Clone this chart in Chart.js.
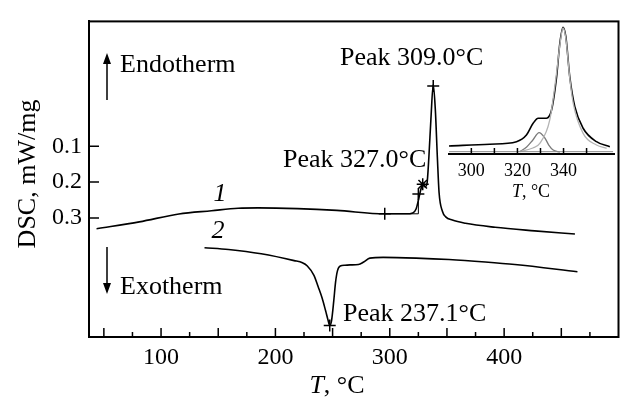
<!DOCTYPE html>
<html>
<head>
<meta charset="utf-8">
<script src="https://cdn.jsdelivr.net/npm/chart.js@4"></script>
<style>
  body { margin: 0; background: #fff; }
  #wrap { position: relative; width: 626px; height: 398px; }
  #main { position: absolute; left: 0; top: 0; }
  #inset { position: absolute; left: 440px; top: 10px; }
</style>
</head>
<body>
<div id="wrap">
  <canvas id="main" width="626" height="398" style="width:626px;height:398px"></canvas>
  <canvas id="inset" width="186" height="195" style="width:186px;height:195px"></canvas>
</div>
<script>
/* DSC curves, main plot + inset with the deconvoluted peak */

// curve 1 (upper trace)
const curve1T = [43.6, 81, 115.6, 144.1, 167.4, 184.7, 219.3, 253.7, 295.6, 314.3, 320.1, 323, 325, 326.9, 328.8, 330.8, 332.5, 334.2, 336, 338, 339.8, 341.6, 343.1, 346.1, 348.9, 354.7, 366.2, 392.1, 426.7, 461.9];
const curve1Y = [0.330, 0.311, 0.289, 0.280, 0.273, 0.272, 0.274, 0.279, 0.2885, 0.2885, 0.286, 0.275, 0.251, 0.224, 0.206, 0.213, 0.205, 0.130, 0.023, -0.072, -0.004, 0.130, 0.229, 0.282, 0.297, 0.306, 0.315, 0.326, 0.336, 0.345];

// curve 2 (lower trace)
const curve2T = [138, 159, 187.6, 216.4, 223.6, 227.9, 233.7, 237.4, 240.9, 243.9, 246.1, 247.5, 249.1, 251, 252.6, 254.3, 256.7, 260.8, 265.3, 272.6, 277.2, 282.6, 294.2, 323, 351.8, 383.5, 409.4, 464.1];
const curve2Y = [0.383, 0.388, 0.400, 0.419, 0.425, 0.434, 0.460, 0.492, 0.524, 0.559, 0.586, 0.600, 0.586, 0.532, 0.479, 0.447, 0.434, 0.432, 0.431, 0.430, 0.423, 0.412, 0.410, 0.412, 0.416, 0.423, 0.430, 0.450];

// onset construction lines on curve 1
const onsetT = [295.6, 325, 325];
const onsetY = [0.2885, 0.2885, 0.233];

// "+" markers
const markT = [295.6, 325, 328.8, 338, 247.5];
const markY = [0.2885, 0.233, 0.206, -0.068, 0.600];
const markStyle = ['cross', 'cross', 'star', 'cross', 'cross'];

const xTicks = [100, 200, 300, 400];
const yTicks = [0.1, 0.2, 0.3];

// inset: measured sum and two fitted components
const insetT = [290.3, 308, 319.6, 323.9, 326.8, 329, 332.6, 334.8, 337, 338.4, 339.8, 341, 342.7, 344.9, 348.5, 354.3, 360.1];
const insetSum = [0.062, 0.075, 0.095, 0.146, 0.236, 0.275, 0.275, 0.338, 0.595, 0.852, 0.975, 0.902, 0.595, 0.364, 0.198, 0.095, 0.056];
const smallT = [321, 324, 326.7, 329.4, 331.9, 333.6, 335.5, 338.4];
const smallY = [0.018, 0.054, 0.108, 0.164, 0.123, 0.069, 0.031, 0.015];
const bigT = [321, 326.7, 329.7, 334, 336.7, 338.4, 339.8, 341, 342.7, 344.2, 348.5, 354.3, 358.7];
const bigY = [0.019, 0.046, 0.082, 0.260, 0.585, 0.838, 0.970, 0.890, 0.585, 0.390, 0.159, 0.069, 0.044];
const baseT = [290.3, 361.5];
const baseY = [0.018, 0.018];
const insetTicks = [300, 320, 340];

const serif = '"Liberation Serif", "Times New Roman", serif';

function pts(xs, ys) {
    return xs.map((v, i) => ({ x: v, y: ys[i] }));
}

function curve(xs, ys, color, width) {
    return {
        data: pts(xs, ys),
        borderColor: color,
        borderWidth: width,
        pointRadius: 0,
        cubicInterpolationMode: 'monotone',
        fill: false
    };
}

// frame, inward ticks and all the annotations of the main plot
const mainNotes = {
    id: 'mainNotes',
    afterDraw(chart) {
        const ctx = chart.ctx;
        const a = chart.chartArea;
        const x = chart.scales.x;
        const y = chart.scales.y;
        ctx.save();
        ctx.strokeStyle = '#000';
        ctx.fillStyle = '#000';
        ctx.lineWidth = 2;
        ctx.strokeRect(a.left, a.top, a.right - a.left, a.bottom - a.top);

        ctx.lineWidth = 1.5;
        ctx.beginPath();
        for (let t = 50; t < 500; t += 25) {
            const px = x.getPixelForValue(t);
            const len = t % 50 === 0 ? 9 : 5;
            ctx.moveTo(px, a.bottom);
            ctx.lineTo(px, a.bottom - len);
        }
        yTicks.forEach(v => {
            const py = y.getPixelForValue(v);
            ctx.moveTo(a.left, py);
            ctx.lineTo(a.left + 10, py);
        });
        ctx.stroke();

        // endo / exo arrows
        ctx.lineWidth = 1.5;
        ctx.beginPath();
        ctx.moveTo(107, 100); ctx.lineTo(107, 62);
        ctx.moveTo(107, 247); ctx.lineTo(107, 285);
        ctx.stroke();
        ctx.beginPath();
        ctx.moveTo(107, 53); ctx.lineTo(103, 64); ctx.lineTo(111, 64); ctx.closePath();
        ctx.moveTo(107, 294); ctx.lineTo(103, 283); ctx.lineTo(111, 283); ctx.closePath();
        ctx.fill();

        ctx.font = '26px ' + serif;
        ctx.textBaseline = 'alphabetic';
        ctx.textAlign = 'left';
        ctx.fillText('Endotherm', 120, 72);
        ctx.fillText('Exotherm', 120, 294);
        ctx.fillText('Peak 309.0°C', 340, 65);
        ctx.fillText('Peak 327.0°C', 283, 167);
        ctx.fillText('Peak 237.1°C', 343, 321);

        ctx.font = 'italic 26px ' + serif;
        ctx.textAlign = 'center';
        ctx.fillText('1', 220, 201);
        ctx.fillText('2', 218, 238);

        // x title: italic T + plain ", °C"
        ctx.textAlign = 'left';
        ctx.font = 'italic 26px ' + serif;
        const wT = ctx.measureText('T').width;
        ctx.font = '26px ' + serif;
        const wRest = ctx.measureText(', °C').width;
        const x0 = 337 - (wT + wRest) / 2;
        ctx.font = 'italic 26px ' + serif;
        ctx.fillText('T', x0, 393);
        ctx.font = '26px ' + serif;
        ctx.fillText(', °C', x0 + wT, 393);

        // y title
        ctx.translate(35, 174);
        ctx.rotate(-Math.PI / 2);
        ctx.textAlign = 'center';
        ctx.fillText('DSC, mW/mg', 0, 0);
        ctx.restore();
    }
};

new Chart(document.getElementById('main'), {
    type: 'line',
    data: {
        datasets: [
            curve(curve1T, curve1Y, '#000', 1.6),
            curve(curve2T, curve2Y, '#000', 1.6),
            {
                data: pts(onsetT, onsetY),
                borderColor: '#000',
                borderWidth: 1,
                pointRadius: 0,
                tension: 0
            },
            {
                data: pts(markT, markY),
                showLine: false,
                pointStyle: markStyle,
                pointRadius: 6,
                pointBorderWidth: 1.5,
                pointBorderColor: '#000',
                pointBackgroundColor: '#000'
            }
        ]
    },
    options: {
        responsive: false,
        animation: false,
        layout: { padding: { top: 9, right: 2, left: 0, bottom: 0 } },
        plugins: { legend: { display: false }, tooltip: { enabled: false } },
        scales: {
            x: {
                type: 'linear',
                min: 37,
                max: 500,
                afterFit: s => { s.height = 61; },
                afterBuildTicks: s => { s.ticks = xTicks.map(v => ({ value: v })); },
                grid: { display: false, drawTicks: false },
                border: { display: true, color: '#000', width: 2 },
                ticks: { color: '#000', padding: 6, font: { family: serif, size: 24 } }
            },
            y: {
                type: 'linear',
                reverse: true,
                min: -0.248,
                max: 0.632,
                afterFit: s => { s.width = 89; },
                afterBuildTicks: s => { s.ticks = yTicks.map(v => ({ value: v })); },
                grid: { display: false, drawTicks: false },
                border: { display: true, color: '#000', width: 2 },
                ticks: { color: '#000', padding: 7, font: { family: serif, size: 24 } }
            }
        }
    },
    plugins: [mainNotes]
});

// inset ticks and title
const insetNotes = {
    id: 'insetNotes',
    afterDraw(chart) {
        const ctx = chart.ctx;
        const a = chart.chartArea;
        const x = chart.scales.x;
        ctx.save();
        ctx.strokeStyle = '#000';
        ctx.fillStyle = '#000';
        ctx.lineWidth = 1.5;
        ctx.beginPath();
        for (let t = 300; t <= 350; t += 10) {
            const px = x.getPixelForValue(t);
            ctx.moveTo(px, a.bottom);
            ctx.lineTo(px, a.bottom - 6);
        }
        ctx.stroke();

        ctx.textBaseline = 'alphabetic';
        ctx.textAlign = 'left';
        ctx.font = 'italic 18px ' + serif;
        const wT = ctx.measureText('T').width;
        ctx.font = '18px ' + serif;
        const wRest = ctx.measureText(', °C').width;
        const x0 = 91 - (wT + wRest) / 2;
        ctx.font = 'italic 18px ' + serif;
        ctx.fillText('T', x0, 187);
        ctx.font = '18px ' + serif;
        ctx.fillText(', °C', x0 + wT, 187);
        ctx.restore();
    }
};

new Chart(document.getElementById('inset'), {
    type: 'line',
    data: {
        datasets: [
            curve(baseT, baseY, '#8a8a8a', 1),
            curve(bigT, bigY, '#b4b4b4', 1.3),
            curve(smallT, smallY, '#7a7a7a', 1.3),
            curve(insetT, insetSum, '#000', 1.6)
        ]
    },
    options: {
        responsive: false,
        animation: false,
        layout: { padding: { top: 14, right: 12, left: 9, bottom: 0 } },
        plugins: { legend: { display: false }, tooltip: { enabled: false } },
        scales: {
            x: {
                type: 'linear',
                min: 290.3,
                max: 361.9,
                afterFit: s => { s.height = 51; },
                afterBuildTicks: s => { s.ticks = insetTicks.map(v => ({ value: v })); },
                grid: { display: false, drawTicks: false },
                border: { display: true, color: '#000', width: 2 },
                ticks: { color: '#000', padding: 6.5, font: { family: serif, size: 18 } }
            },
            y: {
                display: false,
                min: 0,
                max: 1
            }
        }
    },
    plugins: [insetNotes]
});
</script>
</body>
</html>
